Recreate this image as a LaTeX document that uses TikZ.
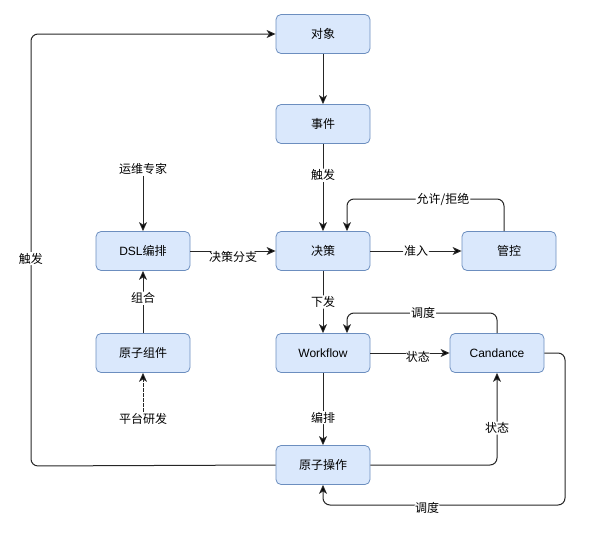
\documentclass[tikz,border=0pt]{standalone}
\usepackage{fontspec}
\setmainfont{Liberation Sans}
\newfontfamily\cjk{Noto Sans CJK SC}
\usetikzlibrary{arrows.meta}
\begin{document}
\begin{tikzpicture}[x=1pt,y=-1pt,
  box/.style={fill={rgb,255:red,218;green,232;blue,252}, draw={rgb,255:red,108;green,142;blue,191}, line width=0.8pt, rounded corners=5pt, minimum width=94pt, minimum height=39pt, font=\fontsize{12pt}{14pt}\selectfont},
  txt/.style={font=\cjk\fontsize{12pt}{14pt}\selectfont, inner sep=1pt},
  lbl/.style={font=\cjk\fontsize{12pt}{14pt}\selectfont, fill=white, inner sep=1pt},
  conn/.style={draw=black!85, line width=1pt, -{Stealth[length=9pt,width=8pt,inset=2.5pt,fill=black]}, rounded corners=7pt},
]
\useasboundingbox (0,0) rectangle (590,541);
\node[box] (obj) at (323,34) {\cjk 对象};
\node[box] (evt) at (323,124) {\cjk 事件};
\node[box] (dec) at (323,251) {\cjk 决策};
\node[box] (ctl) at (509,251) {\cjk 管控};
\node[box] (wf) at (323,353) {Workflow};
\node[box] (cand) at (497,353) {Candance};
\node[box] (atom) at (323,465) {\cjk 原子操作};
\node[box] (dsl) at (143,251) {DSL{\cjk 编排}};
\node[box] (comp) at (143,353) {\cjk 原子组件};
\node[txt] (expert) at (143,169) {运维专家};
\node[txt] (dev) at (143,419) {平台研发};

\coordinate (ltop) at (31,34);
\coordinate (lbot) at (31,466);

\draw[conn] (obj) -- (evt);
\draw[conn] (evt) -- node[lbl, pos=0.36] {触发} (dec);
\draw[conn] (dec) -- node[lbl] {准入} (ctl);
\draw[conn] (ctl.north -| 504,0) |- (443,199) node[lbl] {允许/拒绝} -| (dec.north -| 347,0);
\draw[conn] (dec) -- node[lbl] {下发} (wf);
\draw[conn] (wf) -- node[lbl, pos=0.6, yshift=-4pt] {状态} (cand);
\draw[conn] (cand.north) |- (423,313) node[lbl] {调度} -| (wf.north -| 347,0);
\draw[conn] (wf) -- node[lbl, pos=0.62] {编排} (atom);
\draw[conn] (atom.east) -| node[lbl, pos=0.7] {状态} (cand.south);
\draw[conn] (cand.east) -| (565,505) -- (427,505) node[lbl, yshift=-3pt] {调度} -| (atom.south);
\draw[conn] (dsl) -- node[lbl, yshift=-6pt] {决策分支} (dec);
\draw[conn] (comp) -- node[lbl, pos=0.56] {组合} (dsl);
\draw[conn] (expert) -- (dsl);
\draw[conn, dash pattern=on 4pt off 1pt] (dev) -- (comp);
\draw[conn] (atom.west) -- (lbot) -- node[lbl, pos=0.48] {触发} (ltop) -- (obj.west);
\end{tikzpicture}
\end{document}
